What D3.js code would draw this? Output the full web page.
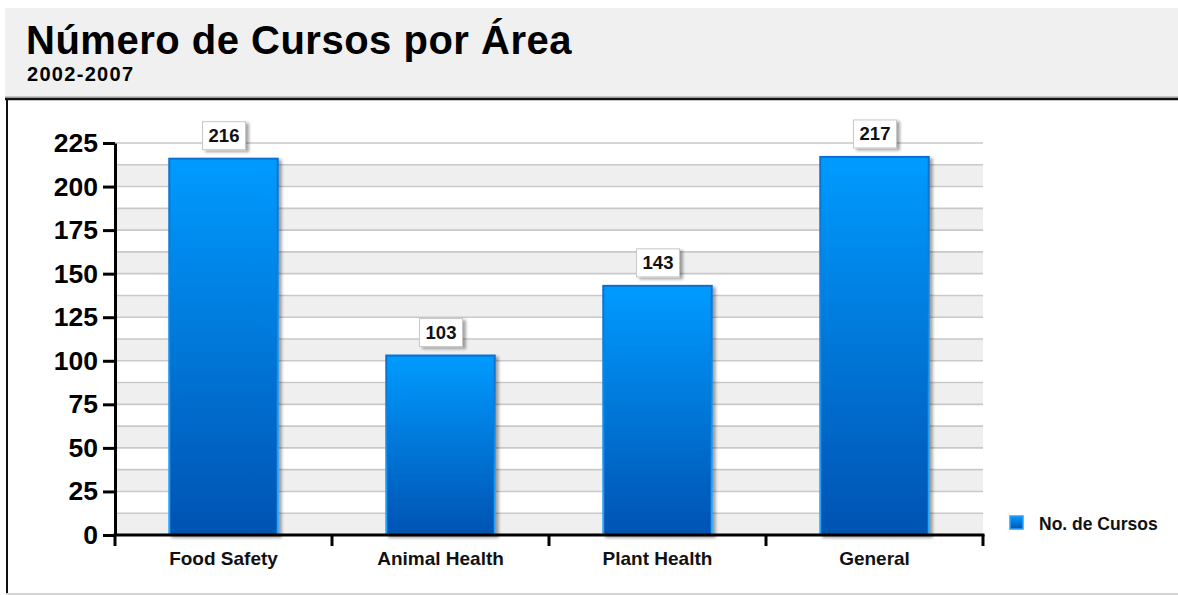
<!DOCTYPE html>
<html>
<head>
<meta charset="utf-8">
<script src="https://cdn.jsdelivr.net/npm/d3@7"></script>
<style>
  html, body { margin: 0; padding: 0; background: #fff; }
  svg { display: block; font-family: "Liberation Sans", Arial, sans-serif; }
</style>
</head>
<body>
<div class="canvas"></div>
<script>
const categories = ['Food Safety', 'Animal Health', 'Plant Health', 'General'];
const cursos = [216, 103, 143, 217];
const yTicks = [0, 25, 50, 75, 100, 125, 150, 175, 200, 225];
const seriesName = 'No. de Cursos';

const width = 1178;
const height = 595;
const plot = {left: 115, right: 983, top: 143, bottom: 535};

const svg = d3.select('.canvas')
  .append('svg')
  .attr('width', width)
  .attr('height', height);

const defs = svg.append('defs');
const barGrad = defs.append('linearGradient')
  .attr('id', 'barFill').attr('x1', 0).attr('y1', 0).attr('x2', 0).attr('y2', 1);
barGrad.append('stop').attr('offset', '0%').attr('stop-color', '#009bff');
barGrad.append('stop').attr('offset', '100%').attr('stop-color', '#0053b2');
const strokeGrad = defs.append('linearGradient')
  .attr('id', 'barStroke').attr('x1', 0).attr('y1', 0).attr('x2', 0).attr('y2', 1);
strokeGrad.append('stop').attr('offset', '0%').attr('stop-color', '#0a6fd0');
strokeGrad.append('stop').attr('offset', '100%').attr('stop-color', '#25a8ff');
const shadow = defs.append('filter').attr('id', 'shadow')
  .attr('x', '-20%').attr('y', '-20%').attr('width', '140%').attr('height', '140%');
shadow.append('feDropShadow')
  .attr('dx', 3).attr('dy', 2).attr('stdDeviation', 1.6)
  .attr('flood-color', '#000').attr('flood-opacity', 0.35);

// header
svg.append('rect')
  .attr('x', 5).attr('y', 8).attr('width', width - 5).attr('height', 89)
  .attr('fill', '#f0f0f0');
svg.append('line')
  .attr('x1', 5).attr('x2', width).attr('y1', 97).attr('y2', 97)
  .attr('stroke', '#999').attr('stroke-width', 1);
svg.append('line')
  .attr('x1', 5).attr('x2', width).attr('y1', 99).attr('y2', 99)
  .attr('stroke', '#111').attr('stroke-width', 2.5);
svg.append('line')
  .attr('x1', 7).attr('x2', 7).attr('y1', 98).attr('y2', 594)
  .attr('stroke', '#111').attr('stroke-width', 2);
svg.append('line')
  .attr('x1', 6).attr('x2', width).attr('y1', 594).attr('y2', 594)
  .attr('stroke', '#d6d6d6').attr('stroke-width', 2);

svg.append('text')
  .attr('x', 26).attr('y', 54)
  .style('font-size', '40px').style('font-weight', 'bold')
  .style('letter-spacing', '0.5px').attr('fill', '#000')
  .text('Número de Cursos por Área');
svg.append('text')
  .attr('x', 27).attr('y', 81)
  .style('font-size', '20px').style('font-weight', 'bold')
  .style('letter-spacing', '1.3px').attr('fill', '#000')
  .text('2002-2007');

// scales
const y = d3.scaleLinear()
  .domain([0, 225])
  .range([plot.bottom, plot.top]);

const x = d3.scaleBand()
  .domain(categories)
  .range([plot.left, plot.right])
  .paddingInner(0)
  .paddingOuter(0);

// alternating bands and grid lines every half step
const half = d3.range(0, 225, 12.5);
svg.append('g').selectAll('rect')
  .data(half.filter((d, i) => i % 2 === 0))
  .enter().append('rect')
  .attr('x', plot.left).attr('width', plot.right - plot.left)
  .attr('y', d => y(d + 12.5)).attr('height', d => y(d) - y(d + 12.5))
  .attr('fill', '#efefef');
svg.append('g').selectAll('line')
  .data(half.concat([225]).filter(d => d > 0))
  .enter().append('line')
  .attr('x1', plot.left).attr('x2', plot.right)
  .attr('y1', d => y(d)).attr('y2', d => y(d))
  .attr('stroke', '#c9c9c9').attr('stroke-width', 1.6);

// bars
const barW = x.bandwidth() * 0.5;
svg.append('g').selectAll('rect')
  .data(cursos)
  .enter().append('rect')
  .attr('x', (d, i) => x(categories[i]) + (x.bandwidth() - barW) / 2)
  .attr('y', d => y(d))
  .attr('width', barW)
  .attr('height', d => y(0) - y(d))
  .attr('fill', 'url(#barFill)')
  .attr('stroke', 'url(#barStroke)')
  .attr('stroke-width', 2)
  .attr('filter', 'url(#shadow)');

// value labels
const labels = svg.append('g').selectAll('g')
  .data(cursos)
  .enter().append('g')
  .attr('transform', (d, i) => `translate(${x(categories[i]) + x.bandwidth() / 2}, ${y(d) - 8})`);
labels.append('rect')
  .attr('x', -21).attr('y', -29).attr('width', 43).attr('height', 28)
  .attr('fill', '#fff').attr('stroke', '#c8c8c8').attr('stroke-width', 1)
  .attr('filter', 'url(#shadow)');
labels.append('text')
  .attr('x', 0.5).attr('y', -9)
  .attr('text-anchor', 'middle')
  .style('font-size', '18.5px').style('font-weight', 'bold').attr('fill', '#111')
  .text(d => d);

// axes
const yAxis = d3.axisLeft(y)
  .tickValues(yTicks)
  .tickSize(12)
  .tickSizeOuter(0)
  .tickPadding(5)
  .tickFormat(d => d);
const gYAxis = svg.append('g')
  .attr('transform', `translate(${plot.left}, 0)`)
  .call(yAxis);
gYAxis.select('.domain').attr('stroke', '#000').attr('stroke-width', 3);
gYAxis.selectAll('.tick line').attr('stroke', '#000').attr('stroke-width', 3);
gYAxis.selectAll('text')
  .style('font-size', '26.5px').style('font-weight', 'bold')
  .style('font-family', '"Liberation Sans", Arial, sans-serif')
  .attr('fill', '#000');

const xAxis = d3.axisBottom(x).tickSize(0).tickSizeOuter(0).tickPadding(17);
const gXAxis = svg.append('g')
  .attr('transform', `translate(0, ${plot.bottom})`)
  .call(xAxis);
gXAxis.select('.domain').attr('stroke', '#000').attr('stroke-width', 3)
  .attr('d', `M${plot.left - 1.5},0H${plot.right + 1.5}`);
gXAxis.selectAll('text')
  .style('font-size', '19px').style('font-weight', 'bold')
  .style('font-family', '"Liberation Sans", Arial, sans-serif')
  .attr('fill', '#111');
gXAxis.selectAll('.tick-edge')
  .data(categories.map(c => x(c)).concat([x.range()[1]]))
  .enter().append('line')
  .attr('class', 'tick-edge')
  .attr('x1', d => d).attr('x2', d => d)
  .attr('y1', 0).attr('y2', 11)
  .attr('stroke', '#000').attr('stroke-width', 3);

// legend
const legend = svg.append('g').attr('transform', 'translate(1010, 516)');
legend.append('rect')
  .attr('width', 13).attr('height', 13)
  .attr('fill', 'url(#barFill)').attr('stroke', '#2aa0ff').attr('stroke-width', 1.5);
legend.append('text')
  .attr('x', 29).attr('y', 14)
  .style('font-size', '17.5px').style('font-weight', 'bold').attr('fill', '#111')
  .text(seriesName);
</script>
</body>
</html>
